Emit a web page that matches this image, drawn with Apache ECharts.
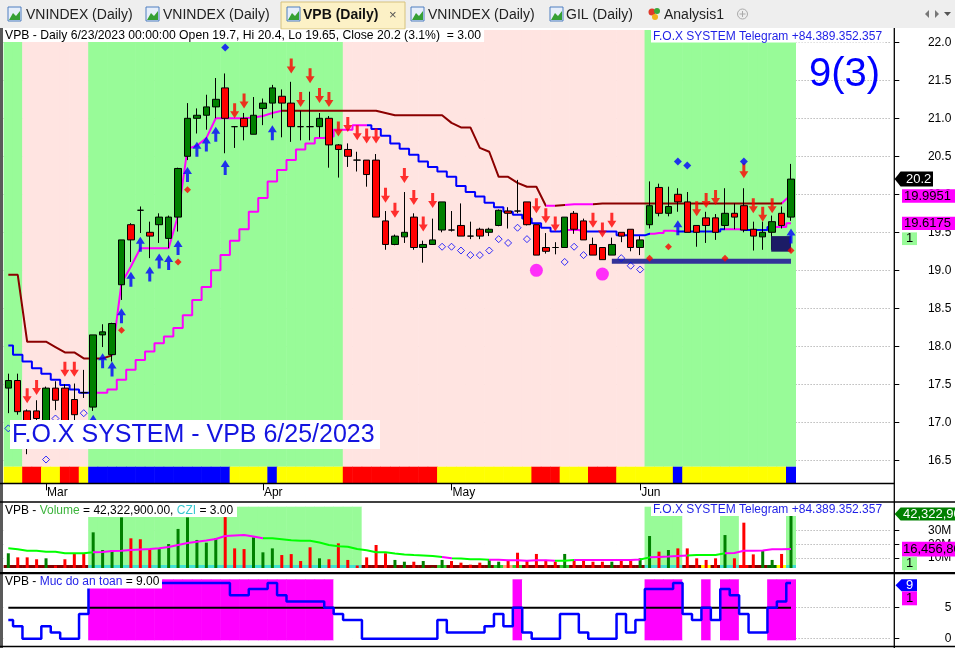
<!DOCTYPE html>
<html><head><meta charset="utf-8">
<script src="https://cdn.jsdelivr.net/npm/echarts@6/dist/echarts.min.js"></script>
<style>html,body{margin:0;padding:0;background:#fff;overflow:hidden}#c{width:955px;height:648px}</style>
</head><body><div id="c"></div>
<script>
// ---------------- DATA ----------------
const dates = ['2/23','2/24','2/27','2/28',
 '3/1','3/2','3/3','3/6','3/7','3/8','3/9','3/10','3/13','3/14','3/15','3/16','3/17','3/20','3/21','3/22','3/23','3/24','3/27','3/28','3/29','3/30','3/31',
 '4/3','4/4','4/5','4/6','4/7','4/10','4/11','4/12','4/13','4/14','4/17','4/18','4/19','4/20','4/21','4/24','4/25','4/26','4/27','4/28',
 '5/4','5/5','5/8','5/9','5/10','5/11','5/12','5/15','5/16','5/17','5/18','5/19','5/22','5/23','5/24','5/25','5/26','5/29','5/30','5/31',
 '6/1','6/2','6/5','6/6','6/7','6/8','6/9','6/12','6/13','6/14','6/15','6/16','6/19','6/20','6/21','6/22','6/23'];
const monthNames = ['Jan','Feb','Mar','Apr','May','Jun','Jul','Aug','Sep','Oct','Nov','Dec'];

const open = [17.45,17.55,17.15,17.15,16.95,17.45,17.45,17.30,17.39,17.20,
 18.15,17.89,18.81,19.60,19.79,19.50,19.60,19.42,19.70,20.50,
 21.00,21.04,21.15,21.40,20.89,21.00,20.79,21.13,21.20,21.29,
 21.20,20.89,20.89,20.89,21.00,20.65,20.59,20.45,20.45,20.45,
 19.65,19.34,19.44,19.70,19.30,19.34,19.53,19.53,19.59,19.45,
 19.54,19.50,19.59,19.78,19.78,19.90,19.60,19.30,19.30,19.30,
 19.75,19.65,19.34,19.30,19.20,19.50,19.54,19.30,19.60,20.09,
 19.75,20.00,19.90,19.59,19.69,19.69,19.59,19.75,19.85,19.54,
 19.44,19.50,19.75,19.70];
const close = [17.55,17.14,16.95,17.05,17.45,17.29,17.00,17.10,17.39,18.15,
 18.19,18.30,19.40,19.40,19.79,19.45,19.70,19.70,20.34,21.00,
 21.04,21.15,21.25,21.00,20.89,20.89,21.04,21.20,21.40,21.20,
 20.89,20.89,20.89,21.00,20.65,20.59,20.50,20.45,20.26,19.70,
 19.34,19.45,19.50,19.30,19.34,19.40,19.90,19.53,19.45,19.45,
 19.45,19.54,19.79,19.75,19.78,19.60,19.20,19.25,19.30,19.70,
 19.54,19.40,19.20,19.14,19.34,19.45,19.30,19.40,19.85,19.75,
 19.84,19.90,19.50,19.50,19.59,19.50,19.75,19.70,19.53,19.45,
 19.50,19.64,19.59,20.20];
const low = [17.12,17.10,16.58,16.95,16.85,17.16,16.90,17.03,17.32,17.15,
 17.99,17.80,18.61,19.11,19.49,19.16,19.36,19.29,19.51,20.45,
 20.80,20.85,21.00,20.54,20.61,20.71,20.79,20.91,21.00,20.75,
 20.69,20.71,20.71,20.75,20.35,20.22,20.36,20.30,20.10,19.70,
 19.27,19.33,19.36,19.27,19.10,19.34,19.50,19.51,19.45,19.41,
 19.41,19.45,19.58,19.55,19.75,19.59,19.20,19.22,19.21,19.30,
 19.48,19.40,19.20,19.14,19.20,19.37,19.25,19.20,19.55,19.71,
 19.71,19.77,19.50,19.31,19.36,19.40,19.54,19.54,19.50,19.26,
 19.27,19.27,19.55,19.65];
const high = [17.64,17.64,17.17,17.29,17.47,17.54,17.50,17.51,17.69,18.15,
 18.29,18.31,19.40,19.62,19.84,19.64,19.75,19.72,20.35,21.20,
 21.13,21.31,21.53,21.59,20.89,21.07,21.28,21.26,21.44,21.38,
 21.48,21.10,21.35,21.07,21.03,20.66,20.67,20.56,20.45,20.53,
 19.78,19.47,20.03,19.75,19.39,19.68,19.90,19.78,19.88,19.64,
 19.56,19.56,19.80,19.83,20.19,19.90,19.60,19.49,19.37,19.70,
 19.78,19.68,19.43,19.30,19.43,19.50,19.54,19.45,20.17,20.14,
 20.10,20.08,20.03,19.59,19.77,19.74,20.08,19.88,20.08,19.64,
 19.64,19.72,19.84,20.40];

// trailing stop lines
const stopFast = [18.94,18.94,18.06,18.06,18.06,17.99,17.92,17.92,17.84,17.84,
 17.84,17.88,18.83,19.05,19.29,19.29,19.29,19.29,19.72,20.60,
 20.64,20.74,21.00,21.00,21.00,21.00,21.01,21.03,21.07,21.10,
 21.10,21.10,21.10,21.10,21.10,21.10,21.10,21.10,21.10,21.10,
 21.07,21.04,21.04,21.04,21.04,21.04,21.04,20.94,20.88,20.88,
 20.61,20.56,20.23,20.23,20.15,20.10,20.10,19.85,19.85,19.86,
 19.87,19.87,19.87,19.88,19.88,19.88,19.88,19.88,19.88,19.88,
 19.88,19.88,19.88,19.88,19.88,19.88,19.88,19.88,19.88,19.88,
 19.88,19.88,19.88,19.9951];
const stopSlow = [18.01,17.89,17.80,17.71,17.64,17.56,17.49,17.43,17.39,17.39,
 17.39,17.43,17.56,17.69,17.82,17.93,18.04,18.13,18.24,18.41,
 18.61,18.78,19.00,19.20,19.39,19.54,19.77,19.95,20.17,20.32,
 20.45,20.59,20.67,20.74,20.76,20.85,20.85,20.91,20.91,20.86,
 20.77,20.67,20.60,20.52,20.43,20.36,20.30,20.23,20.11,20.03,
 19.97,19.89,19.83,19.77,19.73,19.68,19.62,19.56,19.51,19.53,
 19.53,19.51,19.51,19.51,19.51,19.46,19.46,19.46,19.48,19.49,
 19.52,19.51,19.51,19.51,19.51,19.51,19.54,19.54,19.53,19.53,
 19.53,19.57,19.57,19.6175];

// signals [barIndex, price]
const sellSignals = [[2,17.25],[3,17.36],[6,17.60],[7,17.60],[24,21.00],[25,21.13],[30,21.59],[31,21.15],[32,21.46],[33,21.20],[34,21.15],
 [35,20.76],[36,20.82],[37,20.71],[38,20.67],[39,20.67],[40,19.89],[41,19.69],[42,20.15],[43,19.86],[44,19.51],[45,19.82],
 [56,19.75],[57,19.62],[58,19.51],[62,19.56],[63,19.43],[64,19.56],[73,19.71],[74,19.82],[75,19.86],[78,20.21],[79,19.75],[80,19.64],[81,19.75]];
const buySignals = [[9,17.10],[10,17.91],[11,17.80],[12,18.50],[13,18.98],[14,19.44],[15,19.05],[16,19.22],[17,19.20],[18,19.40],
 [19,20.36],[20,20.69],[21,20.76],[22,20.89],[23,20.45],[28,20.91],[71,19.66],[83,19.55]];
const blueMarks = [[23,21.93],[71,20.43],[72,20.38],[78,20.43]];
const redMarks = [[12,18.21],[18,19.11],[19,20.06],[68,19.16],[70,19.31],[76,19.16],[83,19.26]];
const hollowMarks = [[0,16.92],[4,16.51],[5,17.05],[8,17.12],[46,19.31],[47,19.31],[48,19.26],[49,19.20],[50,19.20],[51,19.26],
 [52,19.41],[53,19.36],[54,19.56],[55,19.41],[59,19.11],[60,19.31],[61,19.20],[65,19.16],[66,19.06],[67,19.01]];
const bigDots = [[56,19.00],[63,18.95]];
const supportLevel = {from: 64, to: 83, value: 19.12};
const supportBox = {bar: 83, top: 19.45, bottom: 19.245};

// zones (runs of bar indices)
const trendRuns = [[0,1,'up'],[2,8,'dn'],[9,35,'up'],[36,67,'dn'],[68,83,'up']];
const stateRuns = [[0,1,'Y'],[2,3,'R'],[4,5,'Y'],[6,7,'R'],[8,8,'Y'],[9,23,'B'],[24,27,'Y'],[28,28,'B'],[29,35,'Y'],[36,45,'R'],
 [46,55,'Y'],[56,58,'R'],[59,61,'Y'],[62,64,'R'],[65,70,'Y'],[71,71,'B'],[72,82,'Y'],[83,83,'B']];

// volume (millions of shares)
const volumeM = [13.4,10.4,10.4,9.0,9.7,4.3,9.0,13.4,13.4,28.8,
 15.8,15.8,39.8,24.4,23.7,16.5,16.5,20.2,31.3,39.8,
 23.2,21.2,24.4,40.0,17.0,16.5,25.1,14.1,17.0,12.1,
 12.8,7.7,17.8,9.7,9.0,20.7,8.5,4.4,10.4,19.5,
 13.4,8.5,7.2,7.2,7.7,3.0,8.5,7.7,6.5,5.0,
 6.5,9.0,7.2,8.5,13.8,7.7,12.9,8.5,7.2,12.9,
 8.5,8.5,7.2,7.2,7.2,8.5,8.1,9.7,26.1,14.6,
 15.8,17.0,17.0,9.7,8.5,9.7,26.8,9.7,35.9,12.6,
 15.8,8.5,12.9,42.3229];
const volumeMAM = [17.1,16.3,15.3,15.3,14.6,14.6,13.4,13.4,13.4,14.1,
 14.3,15.1,15.3,15.8,16.2,16.5,17.1,18.0,19.5,21.0,
 21.9,22.8,23.9,26.1,26.5,26.8,25.7,24.4,24.4,23.7,
 22.9,22.6,22.6,21.3,19.5,18.5,18.2,16.5,15.6,14.1,
 14.1,13.2,12.5,12.1,11.8,11.4,10.7,9.7,9.6,9.0,
 9.0,8.7,8.7,8.2,8.2,7.9,8.2,8.2,7.9,7.9,
 8.5,8.5,8.5,8.5,8.5,8.5,8.5,8.8,10.4,10.7,
 11.0,11.4,11.8,12.1,12.1,12.1,13.4,13.6,15.3,15.3,
 15.4,16.3,16.3,16.4568];
const volZoneRuns = [[0,8,'off'],[9,37,'on'],[38,67,'off'],[68,71,'on'],[72,75,'off'],[76,77,'on'],[78,82,'off'],[83,83,'on']];
const volStateRuns = [[0,8,'D'],[9,37,'C'],[38,45,'D'],[46,46,'L'],[47,51,'D'],[52,52,'L'],[53,53,'O'],[54,54,'L'],[55,58,'D'],[59,59,'L'],
 [60,67,'D'],[68,71,'C'],[72,73,'D'],[74,74,'Y'],[75,75,'D'],[76,77,'C'],[78,78,'R'],[79,80,'D'],[81,81,'G'],[82,82,'Y'],[83,83,'C']];

// "Muc do an toan" (safety level)
const safety = [3,2,0,0,2,1,0,0,4,9, 9,9,9,9,9,9,9,9,9,9, 9,9,9,9,7,7,8,8,9,7,
 6,6,6,6,5,4,3,3,0,0, 0,0,0,0,0,0,3,1,1,1, 1,2,4,2,5,1,0,0,0,4,
 4,1,0,0,0,4,1,3,8,8, 8,9,4,3,5,3,8,7,4,1, 1,5,6,9];
const safetyThreshold = 5;
const czi = 3;

// colour runs for indicator lines
const fastColorRuns = [[0,11,'dr'],[11,29,'mg'],[29,57,'dr'],[57,58,'mg'],[58,59,'dr'],[59,62,'mg'],[62,82,'dr'],[82,84,'mg']];
const slowColorRuns = [[0,9,'bl'],[9,38,'mg'],[38,59,'bl'],[59,61,'mg'],[61,68,'bl'],[68,71,'mg'],[71,76,'bl'],[76,78,'mg'],[78,81,'bl'],[81,84,'mg']];
const maColorRuns = [[0,9,'lg'],[9,27,'mg'],[27,46,'lg'],[46,47,'mg'],[47,51,'lg'],[51,58,'mg'],[58,60,'lg'],[60,67,'mg'],[67,68,'lg'],[68,72,'mg'],[72,76,'lg'],[76,84,'mg']];

// ---------------- CHART ----------------
const FF = "'Liberation Sans', Arial, Helvetica, sans-serif";
const COL = {dr:'#8b0000', mg:'#ff00ff', bl:'#0000ff', lg:'#00ff00'};
const ZONE = {up:'#98fb98', dn:'#ffe4e1'};
const STATE = {Y:'#ffff00', R:'#ff0000', B:'#0000ff'};
const VSTATE = {D:'#800000', C:'#40e0d0', L:'#32cd32', O:'#ffa07a', Y:'#ffff00', R:'#ff0000', G:'#006400'};
const N = dates.length;
const padCount = 10;
const cats = dates.concat(Array.from({length: padCount}, (_, i) => ' '.repeat(i + 1)));
const expand = runs => { const o = []; runs.forEach(([a, b, k]) => { for (let i = a; i <= b; i++) o[i] = k; }); return o; };
const mon = d => +d.split('/')[0];
const isMonthStart = i => i > 0 && i < N && mon(dates[i]) !== mon(dates[i - 1]);

const GL = 3.6, GW = (N + padCount) * 9.43, AX_OFF = 894.3 - (GL + GW);
const gridAt = (top, height) => ({left: GL, top, width: GW, height});
const grids = [gridAt(30, 436.7), gridAt(42.3, 418), gridAt(466.7, 16.6), gridAt(506.7, 60),
  gridAt(503.5, 68), gridAt(565, 3), gridAt(579.3, 61), gridAt(576.7, 62)];
const xAxes = grids.map((g, i) => ({
  type: 'category', gridIndex: i, data: cats, boundaryGap: true, show: i === 2,
  axisLine: {show: false},
  axisTick: {show: true, interval: (idx) => isMonthStart(idx), alignWithLabel: true, length: 7, lineStyle: {color: '#000', width: 1}},
  axisLabel: {interval: (idx) => isMonthStart(idx), formatter: (v) => monthNames[mon(v) - 1], align: 'left', margin: 3,
    color: '#000', fontSize: 12, fontFamily: FF, padding: [0, 0, 0, 1]},
  splitLine: {show: false}
}));
const dotted = {show: true, lineStyle: {color: '#9a9a9a', type: [1, 2], width: 1}};
const labelStyle = {align: 'right', margin: 57, color: '#000', fontSize: 12, fontFamily: FF};
const hiddenY = (i) => ({type: 'value', gridIndex: i, min: 0, max: 1, show: false});
const yAxes = [
  hiddenY(0),
  {type: 'value', gridIndex: 1, position: 'right', offset: AX_OFF, min: 16.5, max: 22, interval: 0.5,
    axisLine: {show: false}, axisTick: {show: true, length: 5, lineStyle: {color: '#000'}},
    axisLabel: Object.assign({formatter: (v) => v.toFixed(1)}, labelStyle), splitLine: dotted},
  hiddenY(2), hiddenY(3),
  {type: 'value', gridIndex: 4, position: 'right', offset: AX_OFF, min: 0, max: 50,
    axisLine: {show: false}, axisTick: {show: true, length: 5, customValues: [10, 20, 30], lineStyle: {color: '#000'}},
    axisLabel: Object.assign({customValues: [10, 20, 30], formatter: (v) => v + 'M'}, labelStyle), splitLine: dotted},
  hiddenY(5), hiddenY(6),
  {type: 'value', gridIndex: 7, position: 'right', offset: AX_OFF, min: 0, max: 10,
    axisLine: {show: false}, axisTick: {show: true, length: 5, customValues: [0, 5], lineStyle: {color: '#000'}},
    axisLabel: Object.assign({customValues: [0, 5]}, labelStyle), splitLine: dotted}
];

const bandBar = (xi, colors) => ({type: 'bar', xAxisIndex: xi, yAxisIndex: xi, barWidth: 10, silent: true, z: 1,
  data: colors.map(c => ({value: 1, itemStyle: {color: c}}))});

const trend = expand(trendRuns), state = expand(stateRuns), vzone = expand(volZoneRuns), vstate = expand(volStateRuns);
const downArrow = 'path://M3,0L6,0L6,8L9,8L4.5,15L0,8L3,8Z';
const upArrow = 'path://M4.5,0L9,7L6,7L6,15L3,15L3,7L0,7Z';
const px = {xAxisIndex: 1, yAxisIndex: 1};

const series = [
  bandBar(0, trend.map(k => ZONE[k])),                                   // 0
  bandBar(2, state.map(k => STATE[k])),                                  // 1
  Object.assign({type: 'line', data: stopFast, showSymbol: false, lineStyle: {width: 2}, z: 2}, px),            // 2
  Object.assign({type: 'line', data: stopSlow, step: 'middle', showSymbol: false, lineStyle: {width: 2}, z: 2}, px), // 3
  Object.assign({type: 'candlestick', barWidth: 7, z: 3,
    data: dates.map((d, i) => [open[i], close[i], low[i], high[i]]),
    itemStyle: {color: '#008000', color0: '#ff0000', borderColor: '#000', borderColor0: '#000', borderColorDoji: '#000', borderWidth: 1}}, px), // 4
  Object.assign({type: 'line', data: [[supportLevel.from, supportLevel.value], [supportLevel.to, supportLevel.value]],
    showSymbol: false, lineStyle: {width: 5, color: '#333399'}, z: 4}, px),  // 5
  Object.assign({type: 'custom', z: 6, data: [[supportBox.bar, supportBox.top, supportBox.bottom]],
    renderItem: (p, api) => {
      const a = api.coord([api.value(0), api.value(1)]), b = api.coord([api.value(0), api.value(2)]);
      const bw = api.size([1, 0])[0] * 2.1;
      return {type: 'rect', shape: {x: a[0] - bw, y: a[1], width: bw, height: b[1] - a[1]}, style: {fill: '#1c1c66'}};
    }}, px), // 6
  Object.assign({type: 'scatter', data: sellSignals, symbol: downArrow, symbolSize: [9, 15], symbolOffset: [0, -7.5], itemStyle: {color: '#ff0000'}, z: 5}, px), // 7
  Object.assign({type: 'scatter', data: buySignals, symbol: upArrow, symbolSize: [9, 15], symbolOffset: [0, 7.5], itemStyle: {color: '#0000ff'}, z: 7}, px), // 8
  Object.assign({type: 'scatter', data: blueMarks, symbol: 'diamond', symbolSize: 8, itemStyle: {color: '#0000ff'}, z: 5}, px), // 9
  Object.assign({type: 'scatter', data: redMarks, symbol: 'diamond', symbolSize: 7, itemStyle: {color: '#ff0000'}, z: 7}, px), // 10
  Object.assign({type: 'scatter', data: hollowMarks, symbol: 'diamond', symbolSize: 7, itemStyle: {color: 'rgba(255,255,255,0)', borderColor: '#0000ff', borderWidth: 1}, z: 5}, px), // 11
  Object.assign({type: 'scatter', data: bigDots, symbol: 'circle', symbolSize: 13, itemStyle: {color: '#ff00ff'}, z: 5}, px), // 12
  bandBar(3, vzone.map(k => k === 'on' ? '#98fb98' : '#ffffff')),      // 13
  {type: 'bar', xAxisIndex: 4, yAxisIndex: 4, barWidth: 3, z: 2,
    data: volumeM.map((v, i) => ({value: v, itemStyle: {color: close[i] > open[i] ? '#008000' : '#ff0000'}}))}, // 14
  {type: 'line', xAxisIndex: 4, yAxisIndex: 4, data: volumeMAM, showSymbol: false, lineStyle: {width: 2}, z: 3}, // 15
  bandBar(5, vstate.map(k => VSTATE[k])),                                // 16
  bandBar(6, safety.map(v => v >= safetyThreshold ? '#ff00ff' : '#ffffff')), // 17
  {type: 'line', xAxisIndex: 7, yAxisIndex: 7, data: safety, step: 'middle', showSymbol: false, lineStyle: {width: 2.5, color: '#0000ff'}, z: 3}, // 18
  {type: 'line', xAxisIndex: 7, yAxisIndex: 7, data: [[0, safetyThreshold], [N - 1, safetyThreshold]], showSymbol: false, lineStyle: {width: 2, color: '#000'}, z: 2} // 19
];
const vm = (si, runs) => ({type: 'piecewise', show: false, dimension: 0, seriesIndex: si,
  pieces: runs.map(([a, b, c]) => ({gte: a, lt: b, color: COL[c]}))});

const chart = echarts.init(document.getElementById('c'), null, {renderer: 'canvas', width: 955, height: 648});
chart.setOption({
  animation: false, backgroundColor: '#ffffff',
  textStyle: {fontFamily: FF},
  grid: grids, xAxis: xAxes, yAxis: yAxes, series,
  visualMap: [vm(2, fastColorRuns), vm(3, slowColorRuns), vm(15, maColorRuns)]
});

// ---------------- OVERLAYS ----------------
const py = v => chart.convertToPixel({yAxisIndex: 1}, v);
const vy = v => chart.convertToPixel({yAxisIndex: 4}, v);
const sy = v => chart.convertToPixel({yAxisIndex: 7}, v);
const font = (s, w) => (w ? w + ' ' : '') + s + 'px ' + FF;
const T = (x, y, text, size, fill, extra) => Object.assign({type: 'text', x, y, z: 120,
  style: Object.assign({text, fill, font: font(size), align: 'left', verticalAlign: 'middle'}, extra || {})});
const R = (x, y, w, h, fill, stroke) => ({type: 'rect', z: 110, shape: {x, y, width: w, height: h}, style: {fill, stroke: stroke || null, lineWidth: 1}});
const L = (x1, y1, x2, y2, stroke, w) => ({type: 'line', z: 115, shape: {x1, y1, x2, y2}, style: {stroke, lineWidth: w || 1}});
const P = (pts, fill) => ({type: 'polygon', z: 110, shape: {points: pts}, style: {fill}});
const arrowBox = (xTip, yc, x2, h, fill) => P([[xTip, yc], [xTip + 6, yc - h / 2], [x2, yc - h / 2], [x2, yc + h / 2], [xTip + 6, yc + h / 2]], fill);
const tabIcon = (x) => [
  R(x, 7, 13, 14, '#e6eefa', '#4f7fc0'),
  P([[x + 1, 20], [x + 5, 13], [x + 8, 16], [x + 12, 11], [x + 12, 20]], '#35a035')
];

const n = N - 1;
const pct = ((close[n] / close[n - 1] - 1) * 100).toFixed(1);
const header = `VPB - Daily 6/23/2023 00:00:00 Open ${open[n]}, Hi ${high[n]}, Lo ${low[n]}, Close ${close[n]} (${pct}%)  = ${czi.toFixed(2)}`;
const volText = (volumeM[n] * 1e6).toLocaleString('en-US', {minimumFractionDigits: 2, maximumFractionDigits: 2});
const fmtInt = v => Math.round(v * 1e6).toLocaleString('en-US');
const tele = 'F.O.X SYSTEM Telegram +84.389.352.357';
const blueTxt = '#1f1fe6';

const g = [];
// tab bar
g.push(R(0, 0, 955, 28, '#eeeeee'));
g.push(R(281, 2, 124, 27, '#fcf1c6', '#d6c27e'));
g.push(...tabIcon(8), T(26, 15, 'VNINDEX (Daily)', 14, '#222'));
g.push(...tabIcon(146), T(163, 15, 'VNINDEX (Daily)', 14, '#222'));
g.push(...tabIcon(287), T(303, 15, 'VPB (Daily)', 14, '#111', {font: font(14, 'bold')}), T(389, 15, '×', 13, '#555'));
g.push(...tabIcon(411), T(428, 15, 'VNINDEX (Daily)', 14, '#222'));
g.push(...tabIcon(550), T(566, 15, 'GIL (Daily)', 14, '#222'));
g.push({type: 'circle', z: 115, shape: {cx: 652, cy: 12, r: 3.5}, style: {fill: '#e03a2a'}},
  {type: 'circle', z: 115, shape: {cx: 657, cy: 11, r: 3}, style: {fill: '#3aa83a'}},
  {type: 'circle', z: 115, shape: {cx: 655, cy: 17, r: 3}, style: {fill: '#f2b21a'}},
  T(664, 15, 'Analysis1', 14, '#222'));
g.push({type: 'circle', z: 115, shape: {cx: 742.5, cy: 14, r: 5}, style: {fill: 'none', stroke: '#aaa', lineWidth: 1}},
  L(739.5, 14, 745.5, 14, '#aaa'), L(742.5, 11, 742.5, 17, '#aaa'));
g.push(P([[925, 14], [929, 10], [929, 18]], '#777'), P([[939, 14], [935, 10], [935, 18]], '#777'), P([[944, 12], [951, 12], [947.5, 16]], '#555'));

// frame lines
g.push(R(0, 28, 3, 620, '#5a5a5a'));
g.push(L(0, 483.5, 894.3, 483.5, '#000', 1.5));
g.push(L(0, 502, 955, 502, '#000', 1.5));
g.push(L(0, 573.2, 955, 573.2, '#000', 2.2));
g.push(L(0, 646.5, 955, 646.5, '#000', 1.5));
g.push(L(894.3, 28, 894.3, 648, '#000', 1.3));
g.push(R(3, 568, 891, 4, '#ffffff'));

// main pane texts
g.push(R(3, 29.5, 481, 12.5, '#fff'), T(5, 36, header, 12.2, '#000'));
g.push(R(651, 29.5, 233, 13, '#fff'), T(653, 36.5, tele, 12, blueTxt));
g.push(T(809, 75, `${safety[n]}(${czi})`, 40, '#0000ff'));
g.push(R(10, 420, 370, 29, '#fff'), T(12, 435, 'F.O.X SYSTEM - VPB 6/25/2023', 25, '#1414e0'));

// price labels
const yc = py(close[n]);
g.push(arrowBox(894.6, yc, 933, 15, '#000'), T(906, yc, String(close[n]), 13, '#fff'));
const yf = py(stopFast[n]) + 1.3;
g.push(R(902, yf - 6.7, 53, 13.4, '#ff00ff'), T(904, yf, String(stopFast[n]), 13, '#000'));
const ys = py(stopSlow[n]);
g.push(R(902, ys - 6.7, 53, 13.4, '#ff00ff'), T(904, ys, String(stopSlow[n]), 13, '#000'));
g.push(R(902, ys + 9, 15, 12.7, '#98fb98'), T(906, ys + 15.5, '1', 13, '#000'));

// volume pane texts
g.push(R(3, 503, 234, 14, '#fff'), {type: 'text', x: 5, y: 510.5, z: 120, style: {
  text: `{k|VPB - }{g|Volume}{k| = ${volText}, }{c|CZI}{k| = ${czi.toFixed(2)}}`, verticalAlign: 'middle', align: 'left',
  rich: {k: {fill: '#000', font: font(12)}, g: {fill: '#3cb43c', font: font(12)}, c: {fill: '#38c8d0', font: font(12)}}}});
g.push(R(651, 503, 233, 13, '#fff'), T(653, 510, tele, 12, blueTxt));
const yv = vy(volumeM[n]);
g.push(arrowBox(894.6, yv, 960, 13, '#008000'), T(903, yv, fmtInt(volumeM[n]), 13, '#fff'));
const yma = vy(volumeMAM[n]);
g.push(R(902, yma - 7.3, 53, 14.6, '#ff00ff'), T(903, yma, fmtInt(volumeMAM[n]), 13, '#000'));
g.push(R(902, yma + 7.6, 15, 13.4, '#98fb98'), T(906, yma + 14.5, '1', 13, '#000'));

// safety pane texts
g.push(R(3, 575, 159, 13.5, '#fff'), {type: 'text', x: 5, y: 582, z: 120, style: {
  text: `{k|VPB - }{b|Muc do an toan}{k| = ${safety[n].toFixed(2)}}`, verticalAlign: 'middle', align: 'left',
  rich: {k: {fill: '#000', font: font(12)}, b: {fill: '#2424e8', font: font(12)}}}});
const yz = sy(safety[n]) + 2.4;
g.push(arrowBox(895.5, yz, 917, 12, '#0000ff'), T(906, yz, String(safety[n]), 13, '#fff'));
g.push(R(902, yz + 6, 15, 14, '#ff00ff'), T(906, yz + 13, '1', 13, '#000'));

chart.setOption({graphic: {elements: g}});
</script></body></html>
